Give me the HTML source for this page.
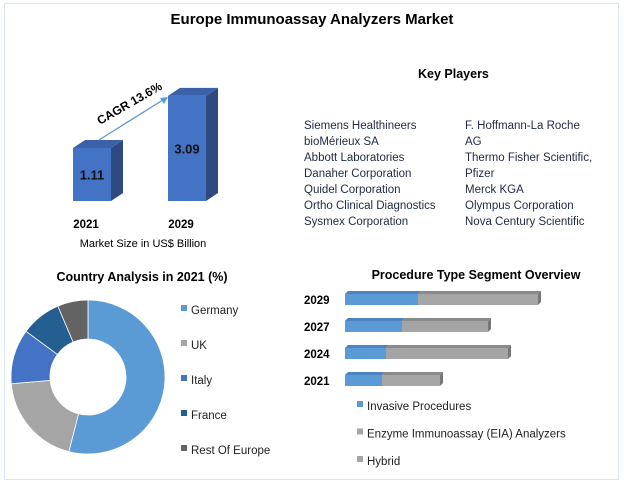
<!DOCTYPE html>
<html><head><meta charset="utf-8"><style>
body{margin:0;background:#fff;}
#root{position:relative;width:624px;height:483px;overflow:hidden;font-family:"Liberation Sans",sans-serif;}
.frame{position:absolute;left:4px;top:3px;width:613px;height:475px;border:1.5px solid #dce6f2;}
.t{position:absolute;white-space:nowrap;color:#000;}
.kp{position:absolute;font-size:11.5px;color:#1f2a44;line-height:16px;white-space:nowrap;}
</style></head><body>
<div id="root">
<div class="frame"></div>
<div class="t" style="left:0;width:624px;text-align:center;top:11px;font-size:15px;font-weight:bold;">Europe Immunoassay Analyzers Market</div>
<div class="t" style="left:418px;top:67px;font-size:12.5px;font-weight:bold;">Key Players</div>
<div class="kp" style="left:304px;top:118px;">Siemens Healthineers<br>bioMérieux SA<br>Abbott Laboratories<br>Danaher Corporation<br>Quidel Corporation<br>Ortho Clinical Diagnostics<br>Sysmex Corporation</div>
<div class="kp" style="left:465px;top:118px;">F. Hoffmann-La Roche<br>AG<br>Thermo Fisher Scientific,<br>Pfizer<br>Merck KGA<br>Olympus Corporation<br>Nova Century Scientific</div>
<svg id="svg" width="624" height="483" style="position:absolute;left:0;top:0" font-family="Liberation Sans, sans-serif"></svg>
</div>
<script>
// Market size bars
const msYears=['2021','2029'];
const msValues=[1.11,3.09];
// Country donut
const countries=['Germany','UK','Italy','France','Rest Of Europe'];
const shares=[54,19.6,11.5,8.5,6.4];
const countryColors=['#5b9bd5','#a5a5a5','#4472c4','#255e91','#636363'];
// Procedure segment
const procYears=['2029','2027','2024','2021'];
const invasive=[73,57,41,37];
const eia=[120,86,122,58];
const procLegend=['Invasive Procedures','Enzyme Immunoassay (EIA) Analyzers','Hybrid'];

const svg=document.getElementById('svg');
const NS='http://www.w3.org/2000/svg';
function mk(tag,attrs,parent){const e=document.createElementNS(NS,tag);for(const k in attrs)e.setAttribute(k,attrs[k]);(parent||svg).appendChild(e);return e;}

// --- market bars ---
const base=201, msH=v=>23.8+v*26.3;
const msX=[73,168], bw=38, dx=12, dy=8;
msValues.forEach((v,i)=>{
  const x=msX[i], h=msH(v), y=base-h;
  const g=mk('g',{});
  
  
  mk('polygon',{points:`${x+bw},${y} ${x+bw+dx},${y-dy} ${x+bw+dx},${base-dy} ${x+bw},${base}`,fill:'#2e4a80'},g);
  mk('polygon',{points:`${x},${y} ${x+dx},${y-dy} ${x+bw+dx},${y-dy} ${x+bw},${y}`,fill:'#3b62a8'},g);
  mk('rect',{x:x,y:y,width:bw,height:h,fill:'#4472c4'},g);
  const t=mk('text',{x:x+bw/2,y:y+h/2+5,'text-anchor':'middle','font-size':13,'font-weight':'bold',fill:'#111'},g);t.textContent=v.toFixed(2);
  const yl=mk('text',{x:x+bw/2-6,y:228,'text-anchor':'middle','font-size':11.5,'font-weight':'bold'});yl.textContent=msYears[i];
  
  
});
const arr=mk('line',{x1:99,y1:140,x2:166,y2:98,stroke:'#5b9bd5','stroke-width':1.3});


mk('polygon',{points:'168,97 160,98 164,104',fill:'#5b9bd5'});
const cg=mk('text',{x:100,y:125,'font-size':12,'font-weight':'bold',transform:'rotate(-30 100 125)'});cg.textContent='CAGR 13.6%';


const ms=mk('text',{x:143,y:247,'text-anchor':'middle','font-size':11});ms.textContent='Market Size in US$ Billion';



// --- donut ---
let tt=mk('text',{x:142,y:281,'text-anchor':'middle','font-size':12.5,'font-weight':'bold'});tt.textContent='Country Analysis in 2021 (%)';


const cx=88,cy=377,R=77,r=38;
const tot=shares.reduce((a,b)=>a+b,0);
let acc=0;
function pt(a,rad){return [cx+rad*Math.sin(a),cy-rad*Math.cos(a)];}
shares.forEach((s,i)=>{
  const a0=acc/tot*2*Math.PI; acc+=s; const a1=acc/tot*2*Math.PI;
  const lg=(a1-a0)>Math.PI?1:0;
  const [x0,y0]=pt(a0,R),[x1,y1]=pt(a1,R),[x2,y2]=pt(a1,r),[x3,y3]=pt(a0,r);
  const p=mk('path',{d:`M${x0},${y0}A${R},${R} 0 ${lg} 1 ${x1},${y1}L${x2},${y2}A${r},${r} 0 ${lg} 0 ${x3},${y3}Z`,fill:countryColors[i],stroke:'#fff','stroke-width':0.8});
  
  
  const ly=310+i*35;
  mk('rect',{x:181,y:ly-5,width:6,height:6,fill:countryColors[i]});
  const lt=mk('text',{x:191,y:ly+4,'font-size':11.5,fill:'#222'});lt.textContent=countries[i];
  
  
});

// --- procedure bars ---
tt=mk('text',{x:476,y:279,'text-anchor':'middle','font-size':12.5,'font-weight':'bold'});tt.textContent='Procedure Type Segment Overview';


const x0=345, sc=1, bh=11, dd=3;
procYears.forEach((yr,i)=>{
  const yc=299+i*27, y=yc-5;
  const w1=invasive[i]*sc, w2=eia[i]*sc;
  const g=mk('g',{});
  
  
  mk('polygon',{points:`${x0},${y} ${x0+dd},${y-dd} ${x0+w1+dd},${y-dd} ${x0+w1},${y}`,fill:'#4a85bf'},g);
  mk('polygon',{points:`${x0+w1},${y} ${x0+w1+dd},${y-dd} ${x0+w1+w2+dd},${y-dd} ${x0+w1+w2},${y}`,fill:'#8a8a8a'},g);
  mk('polygon',{points:`${x0+w1+w2},${y} ${x0+w1+w2+dd},${y-dd} ${x0+w1+w2+dd},${y+bh-dd} ${x0+w1+w2},${y+bh}`,fill:'#777'},g);
  mk('rect',{x:x0,y:y,width:w1,height:bh,fill:'#5b9bd5'},g);
  mk('rect',{x:x0+w1,y:y,width:w2,height:bh,fill:'#a5a5a5'},g);
  const lt=mk('text',{x:304,y:yc+5,'font-size':11.5,'font-weight':'bold'});lt.textContent=yr;
  
  
});
const pc=['#5b9bd5','#a5a5a5','#a5a5a5'];
procLegend.forEach((n,i)=>{
  const ly=406+i*27.5;
  mk('rect',{x:357,y:ly-5,width:6,height:6,fill:pc[i]});
  const lt=mk('text',{x:367,y:ly+4,'font-size':11.5,fill:'#222'});lt.textContent=n;
  
  
});
</script>
</body></html>
